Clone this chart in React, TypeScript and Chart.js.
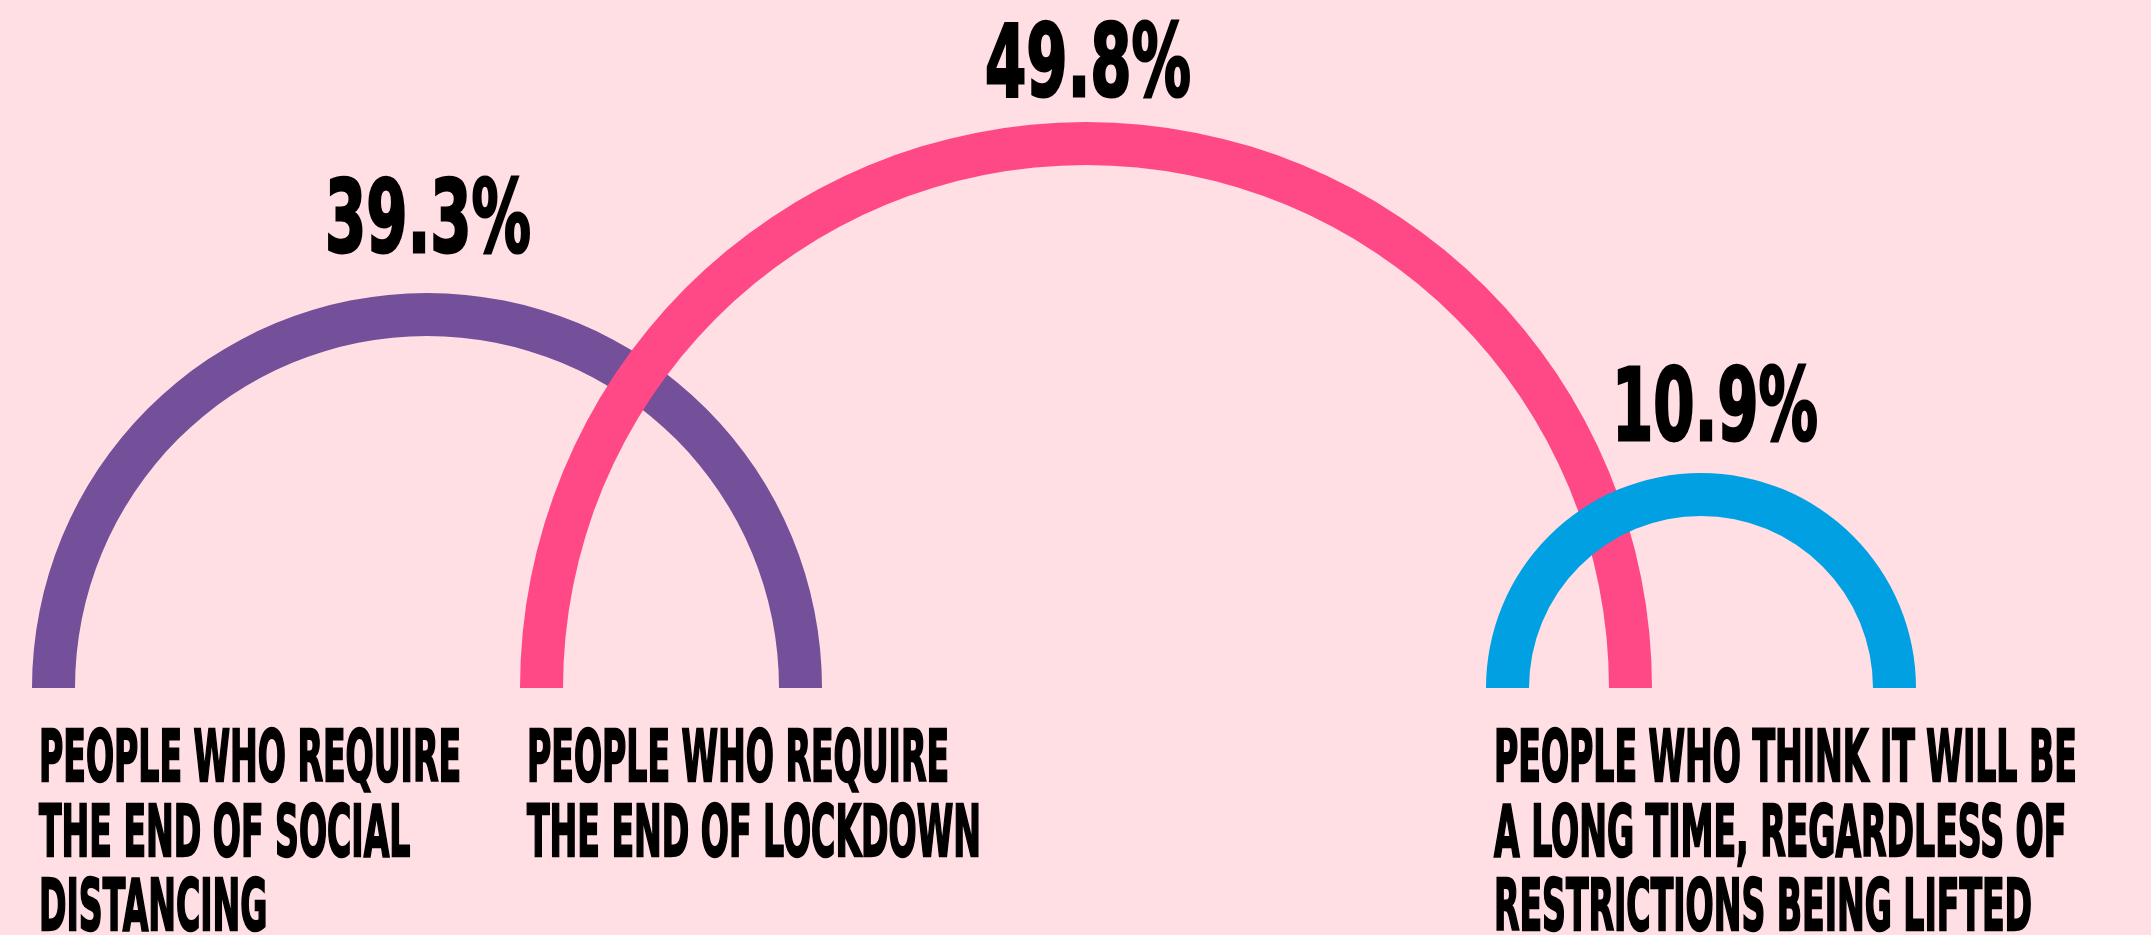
import React, { useEffect, useRef } from "react";
import { Chart, registerables } from "chart.js";

Chart.register(...registerables);

// ---------- data ----------
const categories: string[][] = [
  ["PEOPLE WHO REQUIRE", "THE END OF SOCIAL", "DISTANCING"],
  ["PEOPLE WHO REQUIRE", "THE END OF LOCKDOWN"],
  ["PEOPLE WHO THINK IT WILL BE", "A LONG TIME, REGARDLESS OF", "RESTRICTIONS BEING LIFTED"],
];
const values: number[] = [39.3, 49.8, 10.9];
const valueLabels: string[] = ["39.3%", "49.8%", "10.9%"];

// ---------- styles / layout ----------
const colors = ["#744F9A", "#FF4886", "#00A0E2"];
const BG = "#FFDEE4";
const PAGE_W = 2151;
const PAGE_H = 935;
const BASE_Y = 688;
const arcCenters = [427, 1086, 1701];
const arcRadii = [395, 566, 215];
const RING = 43;
const labelX = [39, 527, 1494];
const labelBaselines = [781, 856, 930];
const pctCenters = [428, 1088, 1715];
const pctBaselines = [252, 96, 440];
const FONT_FAMILY = '"DejaVu Sans", "Liberation Sans", sans-serif';
const PCT_SIZE = 99;
const PCT_STROKE = 3;
const PCT_REF_WIDTH = 206; // width of first value label
const LABEL_SIZE = 71;
const LABEL_STROKE = 2.5;
const LABEL_REF_WIDTH = 422; // width of "PEOPLE WHO REQUIRE"

function Arc({ i }: { i: number }) {
  const ref = useRef<HTMLCanvasElement>(null);
  const R = arcRadii[i];
  useEffect(() => {
    const chart = new Chart(ref.current as HTMLCanvasElement, {
      type: "doughnut",
      data: {
        labels: [categories[i].join(" ")],
        datasets: [
          {
            data: [values[i]],
            backgroundColor: colors[i],
            borderWidth: 0,
            hoverOffset: 0,
          },
        ],
      },
      options: {
        animation: false,
        responsive: false,
        maintainAspectRatio: false,
        rotation: -90,
        circumference: 180,
        cutout: `${((R - RING) / R) * 100}%`,
        layout: { padding: 0 },
        events: [],
        plugins: {
          legend: { display: false },
          tooltip: { enabled: false },
        },
      },
    });
    return () => chart.destroy();
  }, [i, R]);
  return (
    <canvas
      ref={ref}
      width={2 * R}
      height={R}
      style={{
        position: "absolute",
        left: arcCenters[i] - R,
        top: BASE_Y - R,
        width: 2 * R,
        height: R,
      }}
    />
  );
}

function TextLayer() {
  const ref = useRef<HTMLCanvasElement>(null);
  useEffect(() => {
    const canvas = ref.current as HTMLCanvasElement;
    const ctx = canvas.getContext("2d") as CanvasRenderingContext2D;
    ctx.clearRect(0, 0, PAGE_W, PAGE_H);
    ctx.fillStyle = "#000";
    ctx.strokeStyle = "#000";
    ctx.lineJoin = "miter";
    ctx.textBaseline = "alphabetic";

    ctx.font = `bold ${PCT_SIZE}px ${FONT_FAMILY}`;
    const pctSX = PCT_REF_WIDTH / ctx.measureText(valueLabels[0]).width;
    valueLabels.forEach((t, i) => {
      ctx.save();
      ctx.translate(pctCenters[i], pctBaselines[i]);
      ctx.scale(pctSX, 1);
      ctx.textAlign = "center";
      ctx.lineWidth = PCT_STROKE;
      ctx.fillText(t, 0, 0);
      ctx.strokeText(t, 0, 0);
      ctx.restore();
    });

    ctx.font = `bold ${LABEL_SIZE}px ${FONT_FAMILY}`;
    const labSX = LABEL_REF_WIDTH / ctx.measureText(categories[0][0]).width;
    categories.forEach((lines, i) => {
      lines.forEach((line, j) => {
        ctx.save();
        ctx.translate(labelX[i], labelBaselines[j]);
        ctx.scale(labSX, 1);
        ctx.textAlign = "left";
        ctx.lineWidth = LABEL_STROKE;
        ctx.fillText(line, 0, 0);
        ctx.strokeText(line, 0, 0);
        ctx.restore();
      });
    });
  }, []);
  return (
    <canvas
      ref={ref}
      width={PAGE_W}
      height={PAGE_H}
      style={{ position: "absolute", left: 0, top: 0, width: PAGE_W, height: PAGE_H }}
    />
  );
}

export default function App() {
  useEffect(() => {
    document.body.style.margin = "0";
    document.body.style.background = BG;
  }, []);
  return (
    <div
      style={{
        position: "absolute",
        left: 0,
        top: 0,
        width: PAGE_W,
        height: PAGE_H,
        background: BG,
        overflow: "hidden",
      }}
    >
      {values.map((_, i) => (
        <Arc key={i} i={i} />
      ))}
      <TextLayer />
    </div>
  );
}
